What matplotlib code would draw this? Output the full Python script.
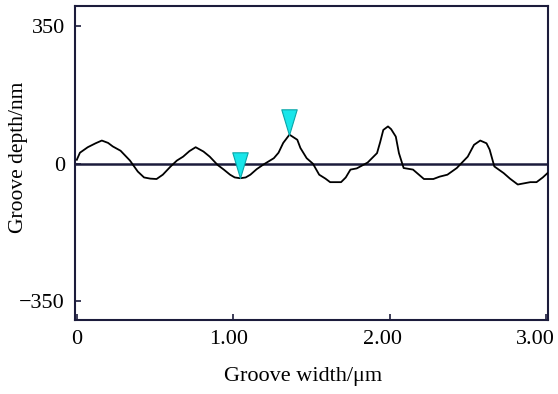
import matplotlib
matplotlib.use("Agg")
import matplotlib.pyplot as plt
import matplotlib.transforms as mtransforms
from matplotlib.path import Path

# Groove profile: lateral position (um) and depth (nm)
width_um = [0.00, 0.02, 0.07, 0.12, 0.16, 0.20, 0.23, 0.28, 0.34, 0.39,
            0.43, 0.47, 0.51, 0.55, 0.60, 0.64, 0.68, 0.72, 0.76, 0.81,
            0.85, 0.90, 0.94, 0.98, 1.01, 1.045, 1.08, 1.11, 1.15, 1.19,
            1.26, 1.29, 1.32, 1.36, 1.41, 1.43, 1.47, 1.51, 1.55, 1.59,
            1.62, 1.69, 1.72, 1.75, 1.79, 1.86, 1.92, 1.94, 1.96, 1.99,
            2.01, 2.04, 2.06, 2.09, 2.12, 2.15, 2.22, 2.28, 2.32, 2.37,
            2.43, 2.50, 2.54, 2.58, 2.62, 2.64, 2.67, 2.73, 2.77, 2.82,
            2.86, 2.90, 2.94, 2.98, 3.01]
depth_nm = [10, 28, 42, 52, 59, 53, 44, 33, 8, -20,
            -35, -38, -39, -28, -7, 8, 18, 32, 42, 31,
            18, -3, -15, -28, -35, -37, -35, -28, -14, -3,
            14, 28, 53, 74, 61, 40, 14, 0, -28, -38,
            -47, -47, -35, -15, -12, 3, 27, 55, 86, 95,
            88, 69, 27, -11, -13, -15, -39, -39, -33, -28,
            -11, 18, 48, 59, 52, 36, -7, -24, -38, -53,
            -50, -47, -47, -35, -24]

# Cursor positions (indices into the profile)
cursor_idx = [25, 33]

x_ticks = [0, 1.0, 2.0, 3.0]
x_tick_labels = ["0", "1.00", "2.00", "3.00"]
y_ticks = [-350, 0, 350]
y_tick_labels = ["\u2212350", "0", "350"]

plt.rcParams["font.family"] = ["Liberation Serif", "DejaVu Serif"]
axis_col = "#1c1c3c"

fig = plt.figure(figsize=(5.58, 3.94), dpi=100)
ax = fig.add_axes([0.134, 0.188, 0.848, 0.796])

ax.axhline(0, color=axis_col, lw=1.8, zorder=2)
ax.plot(width_um, depth_nm, color="black", lw=1.3, zorder=3)

# Downward-pointing cursor with its tip on the profile
tri = Path([(-0.3, 1.0), (0.3, 1.0), (0.0, 0.0), (-0.3, 1.0)],
           [Path.MOVETO, Path.LINETO, Path.LINETO, Path.CLOSEPOLY])
ax.plot([width_um[i] for i in cursor_idx], [depth_nm[i] for i in cursor_idx],
        linestyle="none", marker=tri, markersize=37,
        markerfacecolor="#19e6ea", markeredgecolor="#0aa5a8",
        markeredgewidth=0.8, zorder=4)

ax.set_xlim(-0.013, 3.013)
ax.set_ylim(-398, 401)
ax.set_xticks(x_ticks)
ax.set_xticklabels(x_tick_labels)
ax.set_yticks(y_ticks)
ax.set_yticklabels(y_tick_labels)
ax.tick_params(direction="in", length=4, width=1.2, color=axis_col,
               labelsize=16, labelcolor="black")
ax.tick_params(axis="y", pad=7)
ax.tick_params(axis="x", pad=7)
for s in ax.spines.values():
    s.set_color(axis_col)
    s.set_linewidth(1.5)

# nudge the decimal labels slightly to the left
for lab, dx in zip(ax.get_xticklabels(), [0, -5, -7, -11]):
    lab.set_transform(lab.get_transform() +
                      mtransforms.ScaledTranslation(dx / 100, 0, fig.dpi_scale_trans))

ax.set_xlabel("Groove width/\u03bcm", fontsize=16)
ax.set_ylabel("Groove depth/nm", fontsize=15.5)
ax.xaxis.set_label_coords(0.483, -0.15)
ax.yaxis.set_label_coords(-0.099, 0.517)

fig.savefig("out.png", dpi=100)
